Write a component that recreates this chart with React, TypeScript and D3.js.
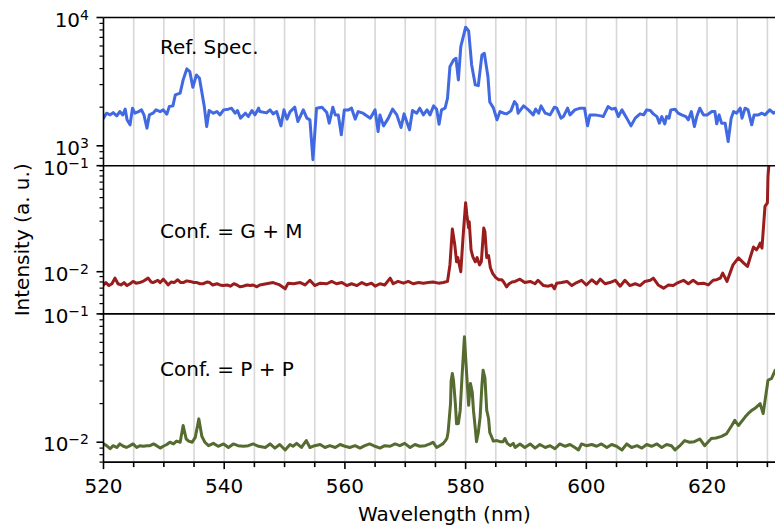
import React from 'react';
import * as d3 from 'd3';

// Reference spectrum (Ref. Spec.)
const refWl = [520.0,520.5,521.1,521.6,522.2,522.7,523.2,523.6,523.9,524.4,524.8,525.2,525.8,526.3,526.7,527.2,527.6,528.2,528.7,529.4,529.9,530.5,530.9,531.5,531.9,532.7,533.2,533.8,534.3,534.8,535.4,535.9,536.7,537.1,537.5,538.2,538.8,539.3,539.9,540.7,541.2,541.8,542.2,542.7,543.5,544.0,544.6,545.1,545.7,545.9,547.0,547.6,548.1,548.7,549.4,549.9,550.4,550.9,551.7,552.2,553.1,553.7,554.2,554.7,555.3,556.2,557.0,557.4,558.0,558.4,558.9,559.4,559.9,560.6,561.1,561.7,562.2,563.0,564.2,565.0,565.5,565.8,566.4,567.2,567.9,568.6,569.3,569.8,570.7,571.2,571.9,572.4,573.0,573.6,574.1,574.7,575.2,575.6,576.0,576.6,577.0,577.4,578.0,578.4,578.8,579.2,580.0,580.5,581.0,581.6,582.1,582.7,583.1,583.7,584.0,584.6,585.2,585.7,586.3,586.8,587.5,588.1,588.5,588.7,589.6,590.4,591.2,591.6,592.1,592.5,593.2,594.0,594.7,595.1,595.8,596.2,596.9,597.3,598.1,599.0,599.7,600.2,600.6,601.4,602.4,602.8,603.6,604.2,604.8,605.3,605.9,606.7,607.4,608.1,608.9,609.5,610.0,610.6,611.1,611.7,612.1,612.5,613.0,613.3,613.7,614.0,614.7,615.2,615.8,616.5,616.9,617.4,617.9,618.3,618.8,619.4,620.0,620.8,621.3,621.6,622.0,622.4,623.0,623.5,624.0,624.4,624.9,625.5,625.8,626.3,626.8,627.4,627.8,628.5,629.1,629.6,630.4,631.0,631.4];
const refVal = [1643,1796,1742,1816,1712,1849,1742,1931,1594,1457,1965,1796,1849,1906,1742,1373,1742,1796,1906,1849,1906,1765,2022,2047,2493,2571,3264,3975,3785,2862,3568,3365,2022,1413,1883,1796,1849,1742,1906,1931,1965,1796,1883,1643,1796,1690,1883,1742,1965,1849,1806,1906,1774,1849,1431,1906,1614,1839,2000,1546,1906,1643,1594,779,1965,2000,1816,1502,2000,1742,1742,1218,1906,1906,1965,1614,1849,1796,1643,1906,1292,1742,1431,1643,1931,1742,1388,1774,1332,1883,1796,1965,1742,1906,1742,2047,1931,1475,1906,1965,2350,4140,4670,4815,3264,5930,8400,7850,4265,2984,2946,5110,5265,3460,2199,1976,1594,1849,1796,1774,1873,2212,2085,1796,2047,1906,1742,1931,1796,2047,1796,1742,2000,1965,1643,1690,1965,1742,1906,1965,1965,1431,1742,1742,1712,1690,2022,1931,1965,1690,1906,1643,1431,1643,1774,1742,1906,1883,1774,1690,1502,1690,1483,1690,1643,1906,1931,1796,1742,1690,1594,1849,1413,1690,1965,1742,1742,1849,1849,1483,1742,1502,1502,1080,1643,1849,1796,1965,1643,1965,1906,1457,1742,1742,1796,1742,1906,1796,1839];

// Conf. = G + M
const gmWl = [520.0,520.4,520.9,521.4,521.9,522.4,522.9,523.4,523.9,524.4,524.9,525.4,526.0,526.7,527.4,527.9,528.2,529.0,529.4,529.9,530.4,530.7,531.2,531.7,532.3,532.8,533.2,533.8,534.3,535.0,535.5,536.0,536.5,537.2,537.6,538.1,538.8,539.3,539.8,540.5,541.0,541.6,542.1,542.6,543.1,543.8,544.3,544.8,545.4,545.9,547.0,548.1,549.2,550.1,550.6,551.5,552.6,553.4,554.2,555.0,555.9,557.0,557.8,558.6,559.5,560.3,561.1,562.0,562.8,563.6,564.4,565.0,565.8,566.6,567.5,568.0,568.8,569.7,570.5,571.3,572.2,573.0,573.8,574.6,575.5,576.3,577.0,577.4,577.8,578.2,578.5,578.7,579.2,579.6,580.0,580.2,580.5,580.6,580.9,581.2,581.6,581.9,582.3,582.6,583.0,583.2,583.5,583.8,584.1,584.5,585.0,585.5,586.0,586.3,586.8,587.2,587.7,588.2,589.0,589.8,590.7,591.5,592.0,592.9,593.7,594.3,594.7,595.1,595.9,596.8,597.6,598.4,599.2,600.0,600.9,601.7,602.3,603.1,603.9,604.8,605.6,606.4,607.2,608.1,608.9,609.7,610.6,611.1,611.9,612.8,613.6,614.4,615.2,616.1,616.9,617.7,618.5,619.4,620.2,621.0,621.6,622.2,622.6,623.3,624.3,625.2,626.0,626.7,627.2,627.7,628.2,628.5,628.8,629.1,629.6,630.0,630.1,630.4,631.5];
const gmVal = [0.0075,0.0079,0.0074,0.0077,0.0087,0.0077,0.0075,0.0079,0.0074,0.0077,0.0081,0.0078,0.0079,0.0082,0.0087,0.0080,0.0079,0.0083,0.0079,0.0085,0.0079,0.0075,0.0080,0.0079,0.0084,0.0079,0.0079,0.0082,0.0081,0.0079,0.0079,0.0077,0.0077,0.0080,0.0079,0.0075,0.0077,0.0075,0.0074,0.0075,0.0073,0.0077,0.0075,0.0072,0.0073,0.0075,0.0074,0.0075,0.0072,0.0075,0.0077,0.0079,0.0075,0.0069,0.0078,0.0077,0.0079,0.0075,0.0083,0.0074,0.0078,0.0077,0.0081,0.0077,0.0079,0.0074,0.0077,0.0074,0.0079,0.0075,0.0078,0.0073,0.0077,0.0075,0.0087,0.0077,0.0081,0.0078,0.0081,0.0077,0.0079,0.0078,0.0079,0.0080,0.0078,0.0079,0.0081,0.0116,0.0253,0.0180,0.0124,0.0136,0.0100,0.0223,0.0448,0.0345,0.0260,0.0296,0.0161,0.0138,0.0124,0.0136,0.0116,0.0124,0.0258,0.0238,0.0136,0.0142,0.0109,0.0096,0.0088,0.0084,0.0084,0.0080,0.0072,0.0077,0.0080,0.0081,0.0085,0.0079,0.0081,0.0077,0.0083,0.0074,0.0073,0.0075,0.0069,0.0078,0.0079,0.0081,0.0074,0.0079,0.0083,0.0075,0.0084,0.0077,0.0085,0.0077,0.0079,0.0083,0.0073,0.0083,0.0074,0.0077,0.0074,0.0081,0.0083,0.0087,0.0075,0.0070,0.0075,0.0074,0.0079,0.0083,0.0077,0.0083,0.0077,0.0078,0.0075,0.0083,0.0084,0.0087,0.0097,0.0081,0.0116,0.0135,0.0122,0.0112,0.0139,0.0171,0.0161,0.0171,0.0186,0.0167,0.0413,0.0445,0.0793,0.1300,0.2000];

// Conf. = P + P
const ppWl = [520.0,520.5,521.1,521.6,522.2,522.7,523.3,523.8,524.4,524.9,525.5,526.0,526.6,527.2,527.7,528.3,528.8,529.4,529.9,530.5,531.0,531.6,532.1,532.7,533.2,533.7,534.1,534.7,535.2,535.8,536.3,536.8,537.4,538.2,539.0,539.9,540.7,541.5,542.3,543.2,544.0,544.8,545.7,546.8,547.6,548.4,549.2,550.1,550.9,551.4,552.0,552.8,553.6,554.2,555.0,555.9,556.7,557.5,558.4,559.2,560.0,560.8,561.7,562.5,563.3,564.1,565.0,565.8,566.6,567.5,568.3,569.1,569.9,570.8,571.6,572.4,573.3,574.1,574.6,575.2,575.7,576.2,576.6,576.9,577.1,577.5,577.6,577.8,578.0,578.3,578.5,578.8,579.1,579.4,579.8,580.2,580.5,580.8,581.1,581.3,581.6,581.8,582.1,582.4,582.7,582.9,583.2,583.5,583.8,584.0,584.6,585.2,585.7,586.2,586.5,586.9,587.4,587.9,588.2,589.0,589.8,590.7,591.5,592.3,593.2,594.0,594.8,595.6,596.5,597.3,598.1,598.7,599.2,600.0,600.9,601.7,602.5,603.4,604.2,605.0,605.9,606.7,607.5,608.4,609.2,610.0,610.8,611.7,612.5,613.3,614.1,614.7,615.5,616.3,617.1,617.9,618.8,619.6,620.7,621.5,622.4,623.2,624.1,624.6,625.2,626.3,626.8,627.4,627.9,628.8,629.3,630.1,630.7,631.3];
const ppVal = [0.0097,0.0094,0.0089,0.0094,0.0091,0.0097,0.0093,0.0091,0.0094,0.0097,0.0091,0.0094,0.0093,0.0094,0.0094,0.0097,0.0094,0.0090,0.0093,0.0096,0.0100,0.0097,0.0102,0.0100,0.0135,0.0106,0.0102,0.0100,0.0109,0.0152,0.0111,0.0100,0.0094,0.0098,0.0093,0.0097,0.0091,0.0097,0.0094,0.0093,0.0094,0.0097,0.0093,0.0091,0.0097,0.0090,0.0096,0.0087,0.0096,0.0093,0.0098,0.0091,0.0103,0.0091,0.0094,0.0096,0.0091,0.0094,0.0091,0.0096,0.0093,0.0091,0.0094,0.0090,0.0094,0.0097,0.0093,0.0090,0.0094,0.0093,0.0097,0.0094,0.0098,0.0091,0.0096,0.0093,0.0094,0.0097,0.0100,0.0091,0.0094,0.0097,0.0102,0.0107,0.0120,0.0200,0.0300,0.0343,0.0300,0.0200,0.0139,0.0140,0.0177,0.0323,0.0664,0.0323,0.0194,0.0287,0.0245,0.0177,0.0128,0.0101,0.0119,0.0157,0.0278,0.0364,0.0316,0.0177,0.0153,0.0119,0.0102,0.0103,0.0101,0.0101,0.0107,0.0098,0.0094,0.0098,0.0091,0.0097,0.0091,0.0097,0.0090,0.0096,0.0091,0.0094,0.0089,0.0097,0.0093,0.0096,0.0091,0.0087,0.0097,0.0094,0.0096,0.0093,0.0097,0.0091,0.0096,0.0093,0.0087,0.0097,0.0091,0.0094,0.0090,0.0096,0.0093,0.0097,0.0091,0.0096,0.0094,0.0087,0.0094,0.0103,0.0100,0.0101,0.0106,0.0094,0.0107,0.0108,0.0111,0.0116,0.0135,0.0148,0.0135,0.0157,0.0167,0.0177,0.0183,0.0200,0.0167,0.0304,0.0314,0.0364];

const xTicks = [520, 540, 560, 580, 600, 620];
const xDomain = [520, 633];
const panelLabels = ['Ref. Spec.', 'Conf. = G + M', 'Conf. = P + P'];
const panelDomains = [[700, 10000], [0.004, 0.1], [0.007, 0.1]];
const colors = ['#4169e1', '#9a1d1d', '#556b2f'];
const xLabel = 'Wavelength (nm)';
const yLabel = 'Intensity (a. u.)';

const FONT = 'DejaVu Sans, sans-serif';

export default function App() {
  const left = 103.5;
  const right = 785.5;
  const top0 = 17.5;
  const ph = 148.2;
  const x = d3.scaleLinear().domain(xDomain).range([left, right]);
  const series = [
    refWl.map((w, i) => [w, refVal[i]]),
    gmWl.map((w, i) => [w, gmVal[i]]),
    ppWl.map((w, i) => [w, ppVal[i]]),
  ];
  const gridVals = d3.range(525, 633, 5);
  const bottom = top0 + 3 * ph;

  return (
    <svg width={775} height={529} style={{ position: 'absolute', left: 0, top: 0, background: '#fff' }}
      fontFamily={FONT}>
      <defs>
        {[0, 1, 2].map(i => (
          <clipPath id={`clip${i}`} key={i}>
            <rect x={left} y={top0 + i * ph} width={right - left} height={ph} />
          </clipPath>
        ))}
      </defs>
      {[0, 1, 2].map(i => {
        const pt = top0 + i * ph;
        const y = d3.scaleLog().domain(panelDomains[i]).range([pt + ph, pt]);
        const line = d3.line<number[]>().x(d => x(d[0])).y(d => y(d[1]));
        const all = y.ticks();
        const majors = all.filter(v => Math.abs(Math.log10(v) - Math.round(Math.log10(v))) < 1e-9);
        const minors = all.filter(v => !majors.includes(v));
        return (
          <g key={i}>
            {gridVals.map(g => (
              <line key={g} x1={x(g)} x2={x(g)} y1={pt} y2={pt + ph} stroke="#b0b0b0" strokeOpacity={0.5} strokeWidth={1.6} />
            ))}
            <path d={line(series[i] as any) || ''} fill="none" stroke={colors[i]} strokeWidth={3}
              strokeLinejoin="round" strokeLinecap="round" clipPath={`url(#clip${i})`} />
            {minors.map(v => (
              <line key={'m' + v} x1={left - 4} x2={left} y1={y(v)} y2={y(v)} stroke="#000" strokeWidth={1.2} />
            ))}
            {majors.map(v => {
              const e = Math.round(Math.log10(v));
              return (
                <g key={'M' + v}>
                  <line x1={left - 7} x2={left} y1={y(v)} y2={y(v)} stroke="#000" strokeWidth={1.6} />
                  <text x={89} y={y(v) + 9} textAnchor="end" fontSize={20} fill="#000">
                    <tspan>10</tspan>
                    <tspan dy={-7} fontSize={14}>{e < 0 ? '\u2212' + Math.abs(e) : String(e)}</tspan>
                  </text>
                </g>
              );
            })}
            <text x={160} y={[54, 237.7, 375.7][i]} fontSize={20} fill="#000">{panelLabels[i]}</text>
            <line x1={left} x2={775} y1={pt} y2={pt} stroke="#000" strokeWidth={1.6} />
          </g>
        );
      })}
      <line x1={left} x2={775} y1={bottom} y2={bottom} stroke="#000" strokeWidth={1.6} />
      <line x1={left} x2={left} y1={top0} y2={bottom} stroke="#000" strokeWidth={1.6} />
      {d3.range(520, 633, 5).map(v => (
        <line key={'xt' + v} x1={x(v)} x2={x(v)} y1={bottom} y2={bottom + (v % 20 === 0 ? 7 : 5)} stroke="#000" strokeWidth={1.6} />
      ))}
      {xTicks.map(v => (
        <text key={'xl' + v} x={x(v)} y={493} textAnchor="middle" fontSize={20} fill="#000">{v}</text>
      ))}
      <text x={(left + right) / 2} y={521} textAnchor="middle" fontSize={20} fill="#000">{xLabel}</text>
      <text transform={`translate(29, ${(top0 + bottom) / 2}) rotate(-90)`} textAnchor="middle" fontSize={20} fill="#000">{yLabel}</text>
    </svg>
  );
}
